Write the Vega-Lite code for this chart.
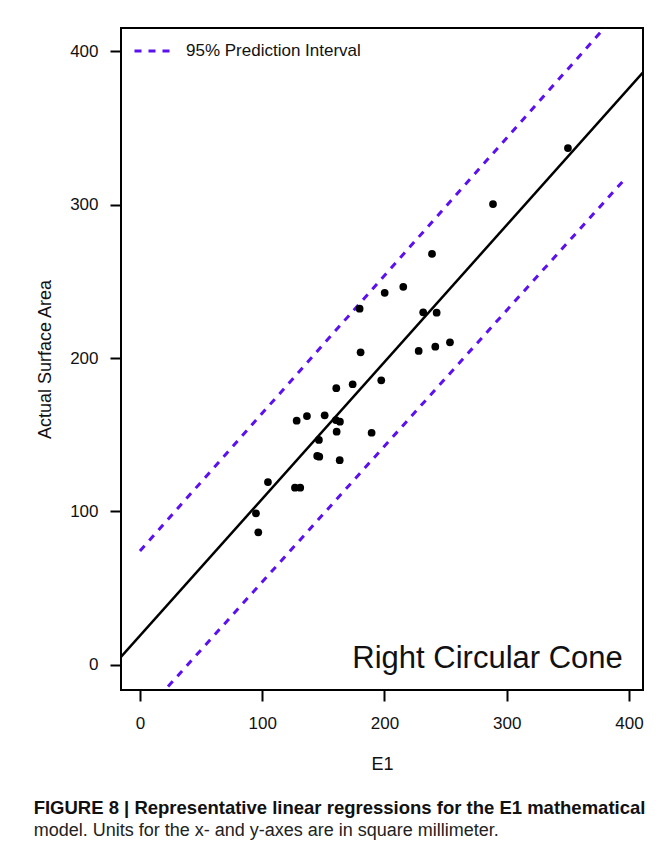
{
  "$schema": "https://vega.github.io/schema/vega-lite/v6.json",
  "width": 522,
  "height": 662,
  "autosize": {"type": "none"},
  "padding": {"left": 121, "top": 28, "right": 25, "bottom": 169},
  "background": "white",
  "title": {
    "text": "FIGURE 8 | Representative linear regressions for the E1 mathematical",
    "subtitle": "model. Units for the x- and y-axes are in square millimeter.",
    "orient": "bottom",
    "anchor": "start",
    "frame": "bounds",
    "offset": 26,
    "dx": -3,
    "font": "Liberation Sans",
    "fontSize": 18.5,
    "fontWeight": "bold",
    "color": "#111111",
    "subtitleFont": "Liberation Sans",
    "subtitleFontSize": 18,
    "subtitleColor": "#222222",
    "subtitlePadding": 4
  },
  "config": {
    "view": {"stroke": "black", "strokeWidth": 2},
    "axis": {
      "domain": false,
      "grid": false,
      "tickColor": "black",
      "tickWidth": 2,
      "tickSize": 11,
      "labelFont": "Liberation Sans",
      "labelFontSize": 17,
      "labelColor": "#111111",
      "titleFont": "Liberation Sans",
      "titleFontSize": 18,
      "titleFontWeight": "normal",
      "titleColor": "#111111"
    }
  },
  "datasets": {
    "points": [
      {"E1": 94.9, "area": 98.8},
      {"E1": 96.8, "area": 86.4},
      {"E1": 104.7, "area": 119.2},
      {"E1": 126.8, "area": 115.5},
      {"E1": 131.1, "area": 115.5},
      {"E1": 128.2, "area": 159.2},
      {"E1": 136.6, "area": 162.2},
      {"E1": 151.1, "area": 162.7},
      {"E1": 160.3, "area": 159.6},
      {"E1": 163.6, "area": 158.5},
      {"E1": 160.9, "area": 152.0},
      {"E1": 189.5, "area": 151.3},
      {"E1": 146.4, "area": 146.6},
      {"E1": 145.0, "area": 136.2},
      {"E1": 146.7, "area": 135.7},
      {"E1": 163.4, "area": 133.4},
      {"E1": 160.6, "area": 180.3},
      {"E1": 174.0, "area": 182.9},
      {"E1": 197.4, "area": 185.5},
      {"E1": 180.5, "area": 203.7},
      {"E1": 228.0, "area": 204.6},
      {"E1": 241.6, "area": 207.4},
      {"E1": 253.6, "area": 210.2},
      {"E1": 179.7, "area": 232.1},
      {"E1": 200.2, "area": 242.5},
      {"E1": 215.4, "area": 246.4},
      {"E1": 231.7, "area": 229.8},
      {"E1": 242.7, "area": 229.5},
      {"E1": 238.9, "area": 267.8},
      {"E1": 288.8, "area": 300.3},
      {"E1": 350.1, "area": 336.8}
    ],
    "fit": [
      {"E1": -20, "area": 1.2},
      {"E1": 420, "area": 393.6}
    ],
    "pi": [
      {"E1": 0, "area": 74.3, "band": "upper", "series": "95% Prediction Interval"},
      {"E1": 397, "area": 430.4, "band": "upper", "series": "95% Prediction Interval"},
      {"E1": 0, "area": -34.4, "band": "lower", "series": "95% Prediction Interval"},
      {"E1": 397, "area": 316.9, "band": "lower", "series": "95% Prediction Interval"}
    ],
    "label": [
      {"E1": 395, "area": -2, "label": "Right Circular Cone"}
    ]
  },
  "layer": [
    {
      "data": {"name": "pi"},
      "mark": {"type": "line", "clip": true, "strokeWidth": 3, "strokeDash": [7, 7]},
      "encoding": {
        "x": {
          "field": "E1",
          "type": "quantitative",
          "scale": {"domain": [-15.5, 411.5], "nice": false, "zero": false},
          "axis": {"values": [0, 100, 200, 300, 400], "title": "E1", "labelPadding": 14, "titlePadding": 24}
        },
        "y": {
          "field": "area",
          "type": "quantitative",
          "scale": {"domain": [-16.3, 415], "nice": false, "zero": false},
          "axis": {"values": [0, 100, 200, 300, 400], "title": "Actual Surface Area", "labelPadding": 12, "titlePadding": 15}
        },
        "detail": {"field": "band"},
        "color": {
          "field": "series",
          "type": "nominal",
          "scale": {"range": ["#5a10f0"]},
          "legend": {
            "title": null,
            "orient": "none",
            "legendX": 12,
            "legendY": 4,
            "symbolType": "stroke",
            "symbolSize": 1225,
            "symbolStrokeWidth": 3,
            "symbolDash": [7, 7],
            "labelFont": "Liberation Sans",
            "labelFontSize": 17,
            "labelColor": "#111111",
            "labelOffset": 15,
            "labelLimit": 400
          }
        }
      }
    },
    {
      "data": {"name": "fit"},
      "mark": {"type": "line", "clip": true, "strokeWidth": 2.5, "color": "black"},
      "encoding": {
        "x": {"field": "E1", "type": "quantitative"},
        "y": {"field": "area", "type": "quantitative"}
      }
    },
    {
      "data": {"name": "points"},
      "mark": {"type": "circle", "size": 60, "color": "black", "opacity": 1},
      "encoding": {
        "x": {"field": "E1", "type": "quantitative"},
        "y": {"field": "area", "type": "quantitative"}
      }
    },
    {
      "data": {"name": "label"},
      "mark": {"type": "text", "align": "right", "baseline": "alphabetic", "font": "Liberation Sans", "fontSize": 31, "color": "#111111"},
      "encoding": {
        "x": {"field": "E1", "type": "quantitative"},
        "y": {"field": "area", "type": "quantitative"},
        "text": {"field": "label", "type": "nominal"}
      }
    }
  ]
}
